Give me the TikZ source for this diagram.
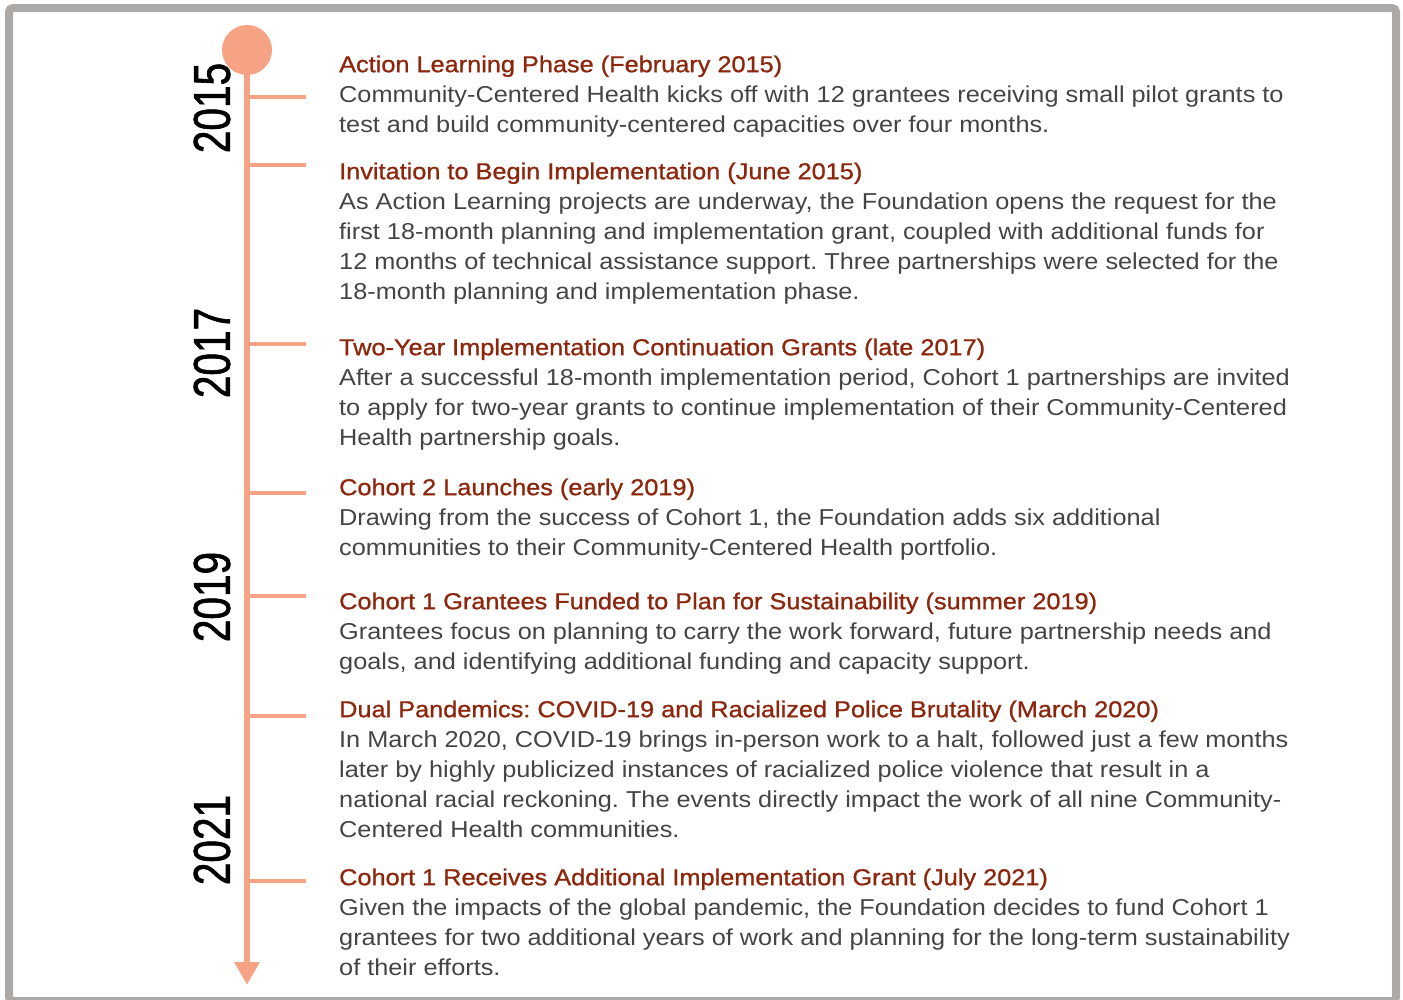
\documentclass[tikz,border=0pt]{standalone}
\usepackage{fontspec}
\setmainfont[FakeStretch=1.1]{Liberation Sans}
\newfontfamily\yearfont[FakeStretch=0.78,FakeBold=1.2]{Liberation Sans}
\newfontfamily\headfont[FakeStretch=1.1,FakeBold=1.0]{Liberation Sans}
\usetikzlibrary{arrows.meta,positioning}
\definecolor{salmon}{RGB}{246,162,132}
\definecolor{rust}{RGB}{140,38,12}
\definecolor{bodygrey}{RGB}{68,68,68}
\definecolor{framegrey}{RGB}{173,169,167}
\newcommand{\evhead}[1]{\strut{\headfont\color{rust}#1}}
\frenchspacing

\begin{document}
\begin{tikzpicture}[x=1pt,y=-1pt,
  year/.style={rotate=90,inner sep=0pt,font=\yearfont\fontsize{52}{52}\selectfont},
  event/.style={anchor=north west,align=left,inner sep=0pt,text=bodygrey,
    font=\fontsize{23}{30}\selectfont},
  tick/.style={salmon,line width=4pt}]
\useasboundingbox (0,0) rectangle (1403,999);
\draw[framegrey,line width=8pt,rounded corners=4pt] (9,8) rectangle (1396,1001);

% spine with the dot on top and the arrow at the bottom
\node[circle,fill=salmon,minimum size=50pt,inner sep=0pt] (dot) at (247,50) {};
\coordinate (end) at (247,985);
\draw[salmon,line width=6pt,-{Triangle[width=24pt,length=23pt]}] (dot.center) -- (end);
\foreach \y in {97,165,344,493,596,716,881}
  \draw[tick] (247,\y) -- ++(59,0);

% years
\node[year] (y15) at (212,108) {2015};
\node[year] (y17) at (212,353) {2017};
\node[year] (y19) at (212,597) {2019};
\node[year] (y21) at (212,840) {2021};

% events (top of node = first baseline - 21pt strut)
\node[event] (e1) at (339,51) {\evhead{Action Learning Phase (February 2015)}\\
  Community-Centered Health kicks off with 12 grantees receiving small pilot grants to\\
  test and build community-centered capacities over four months.};
\node[event] (e2) at (339,158) {\evhead{Invitation to Begin Implementation (June 2015)}\\
  As Action Learning projects are underway, the Foundation opens the request for the\\
  first 18-month planning and implementation grant, coupled with additional funds for\\
  12 months of technical assistance support. Three partnerships were selected for the\\
  18-month planning and implementation phase.};
\node[event] (e3) at (339,334) {\evhead{Two-Year Implementation Continuation Grants (late 2017)}\\
  After a successful 18-month implementation period, Cohort 1 partnerships are invited\\
  to apply for two-year grants to continue implementation of their Community-Centered\\
  Health partnership goals.};
\node[event] (e4) at (339,474) {\evhead{Cohort 2 Launches (early 2019)}\\
  Drawing from the success of Cohort 1, the Foundation adds six additional\\
  communities to their Community-Centered Health portfolio.};
\node[event] (e5) at (339,588) {\evhead{Cohort 1 Grantees Funded to Plan for Sustainability (summer 2019)}\\
  Grantees focus on planning to carry the work forward, future partnership needs and\\
  goals, and identifying additional funding and capacity support.};
\node[event] (e6) at (339,696) {\evhead{Dual Pandemics: COVID-19 and Racialized Police Brutality (March 2020)}\\
  In March 2020, COVID-19 brings in-person work to a halt, followed just a few months\\
  later by highly publicized instances of racialized police violence that result in a\\
  national racial reckoning. The events directly impact the work of all nine Community-\\
  Centered Health communities.};
\node[event] (e7) at (339,864) {\evhead{Cohort 1 Receives Additional Implementation Grant (July 2021)}\\
  Given the impacts of the global pandemic, the Foundation decides to fund Cohort 1\\
  grantees for two additional years of work and planning for the long-term sustainability\\
  of their efforts.};
\end{tikzpicture}
\end{document}
